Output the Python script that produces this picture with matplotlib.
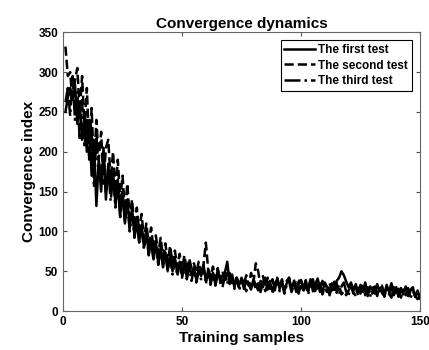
import numpy as np
import matplotlib
matplotlib.use("Agg")
import matplotlib.pyplot as plt

plt.rcParams["font.family"] = ["Liberation Sans", "DejaVu Sans"]
plt.rcParams["font.weight"] = "bold"

samples = np.arange(1, 151)

first_test = [
    250, 268, 280, 265, 285, 235, 260, 215, 245, 200,
    240, 170, 215, 132, 190, 150, 205, 140, 185, 150,
    175, 135, 160, 120, 150, 110, 140, 105, 128, 95,
    118, 88, 108, 80, 100, 72, 92, 65, 85, 60,
    80, 58, 74, 52, 70, 50, 66, 48, 62, 45,
    60, 42, 58, 45, 55, 40, 52, 44, 58, 38,
    50, 36, 48, 34, 52, 40, 35, 48, 62, 36,
    44, 30, 42, 33, 40, 28, 38, 34, 27, 40,
    33, 26, 38, 30, 42, 27, 36, 25, 35, 40,
    28, 38, 25, 35, 42, 27, 37, 24, 34, 39,
    26, 36, 29, 40, 25, 34, 41, 27, 24, 36,
    30, 23, 35, 28, 38, 42, 50, 45, 37, 30,
    36, 26, 34, 24, 33, 25, 36, 22, 31, 28,
    22, 34, 25, 31, 21, 33, 24, 35, 22, 30,
    20, 29, 23, 31, 19, 27, 30, 18, 26, 16,
]

second_test = [
    332, 295, 300, 262, 290, 305, 250, 295, 230, 280,
    200, 255, 175, 240, 190, 225, 160, 205, 215, 165,
    200, 150, 190, 140, 170, 125, 160, 118, 140, 105,
    130, 100, 122, 90, 110, 85, 105, 78, 95, 72,
    92, 68, 85, 62, 82, 60, 76, 55, 72, 52,
    70, 50, 66, 54, 60, 48, 62, 46, 58, 86,
    52, 44, 56, 40, 54, 38, 50, 36, 48, 34,
    46, 32, 44, 30, 42, 34, 45, 32, 48, 36,
    60, 50, 32, 44, 30, 42, 28, 40, 26, 42,
    30, 40, 26, 38, 42, 28, 40, 26, 37, 41,
    27, 39, 25, 37, 40, 26, 36, 24, 38, 28,
    24, 35, 26, 37, 23, 33, 21, 25, 20, 26,
    32, 22, 30, 20, 31, 22, 29, 19, 30, 22,
    29, 20, 31, 23, 19, 30, 21, 32, 20, 28,
    18, 27, 21, 30, 17, 26, 28, 18, 25, 15,
]

third_test = [
    262, 280, 245, 295, 240, 275, 215, 265, 205, 240,
    190, 230, 155, 220, 175, 180, 200, 148, 180, 138,
    170, 130, 165, 118, 150, 112, 138, 100, 122, 92,
    112, 86, 104, 78, 98, 70, 90, 64, 84, 58,
    78, 55, 72, 50, 68, 46, 64, 44, 60, 42,
    58, 40, 55, 38, 54, 36, 50, 40, 56, 34,
    52, 33, 48, 32, 46, 36, 30, 44, 34, 48,
    36, 28, 42, 26, 38, 32, 25, 38, 30, 36,
    28, 38, 24, 36, 25, 34, 38, 23, 33, 37,
    25, 35, 22, 33, 37, 24, 32, 36, 22, 34,
    24, 35, 21, 32, 36, 23, 31, 35, 21, 30,
    34, 20, 31, 23, 35, 21, 31, 36, 24, 20,
    33, 24, 19, 31, 22, 34, 20, 30, 18, 29,
    31, 19, 27, 32, 18, 29, 22, 17, 30, 20,
    28, 17, 27, 20, 29, 16, 25, 19, 15, 20,
]

fig = plt.figure(figsize=(4.29, 3.5), dpi=100)
ax = fig.add_axes([0.147, 0.111, 0.832, 0.797])

ax.plot(samples, first_test, "-", color="black", lw=1.8, label="The first test")
ax.plot(samples, second_test, "--", color="black", lw=1.8, label="The second test")
ax.plot(samples, third_test, "-.", color="black", lw=1.8, label="The third test")

ax.set_xlim(0, 150)
ax.set_ylim(0, 350)
ax.set_xticks([0, 50, 100, 150])
ax.set_yticks(np.arange(0, 351, 50))
ax.tick_params(direction="in", top=True, right=True, labelsize=8.5,
               length=3, width=0.8, color="0.3")
for lab in ax.get_xticklabels() + ax.get_yticklabels():
    lab.set_fontweight("bold")
for sp in ax.spines.values():
    sp.set_color("0.4")
    sp.set_linewidth(0.8)

ax.set_title("Convergence dynamics", fontsize=11, fontweight="bold", pad=3)
ax.set_xlabel("Training samples", fontsize=11, fontweight="bold", labelpad=2)
ax.set_ylabel("Convergence index", fontsize=11, fontweight="bold", labelpad=2)

leg = ax.legend(loc="upper right", fontsize=8.5, fancybox=False, framealpha=1,
                edgecolor="black", handlelength=2.6, handletextpad=0.3,
                borderpad=0.3, labelspacing=0.3, borderaxespad=0.7)
leg.get_frame().set_linewidth(0.8)
for t in leg.get_texts():
    t.set_fontweight("bold")

fig.savefig("out.png", dpi=100)
